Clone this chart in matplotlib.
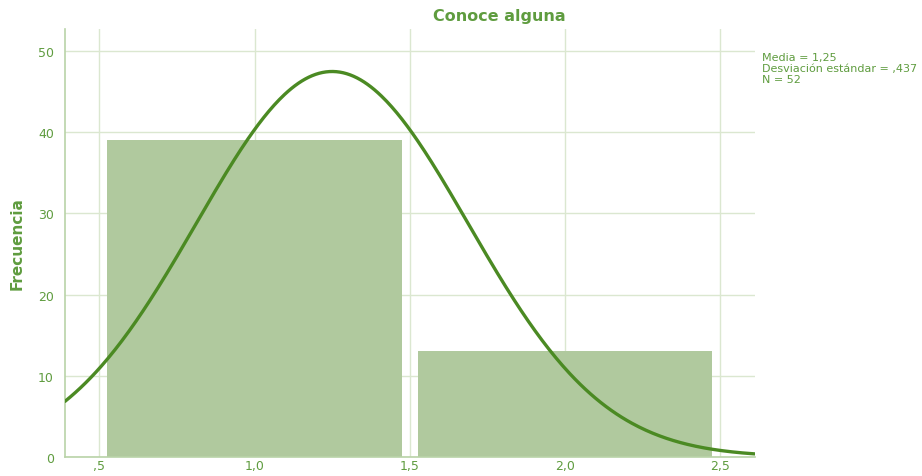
import numpy as np
import matplotlib
matplotlib.use("Agg")
import matplotlib.pyplot as plt

# Data
bin_centers = [1.0, 2.0]
counts = [39, 13]
mean_val = 1.25
std_val = 0.437
n_val = 52
bin_width = 1.0
x_ticks = [0.5, 1.0, 1.5, 2.0, 2.5]
x_tick_labels = [",5", "1,0", "1,5", "2,0", "2,5"]
y_ticks = [0, 10, 20, 30, 40, 50]
title = "Conoce alguna"
ylabel = "Frecuencia"
stats_text = "Media = 1,25\nDesviación estándar = ,437\nN = 52"

bar_color = "#b0c99e"
line_color = "#4b8a23"
text_color = "#5f9c3f"
grid_color = "#dbe7d0"
spine_color = "#b9d3a8"

fig = plt.figure(figsize=(9.22, 4.77), dpi=100)
ax = fig.add_axes([0.0705, 0.040, 0.748, 0.897])

ax.set_xlim(0.39, 2.61)
ax.set_ylim(0, 52.7)
ax.set_axisbelow(True)
ax.grid(True, color=grid_color, linewidth=1.0)

ax.bar(bin_centers, counts, width=0.948, color=bar_color, edgecolor="none", zorder=2)

xs = np.linspace(0.39, 2.61, 400)
ys = n_val * bin_width / (std_val * np.sqrt(2 * np.pi)) * np.exp(-0.5 * ((xs - mean_val) / std_val) ** 2)
ax.plot(xs, ys, color=line_color, linewidth=2.4, zorder=3, solid_capstyle="round")

ax.set_xticks(x_ticks)
ax.set_xticklabels(x_tick_labels)
ax.set_yticks(y_ticks)
ax.tick_params(axis="both", length=0, colors=text_color, labelsize=9)
ax.tick_params(axis="x", pad=1.5)
ax.tick_params(axis="y", pad=8)

for s in ["top", "right"]:
    ax.spines[s].set_visible(False)
for s in ["left", "bottom"]:
    ax.spines[s].set_color(spine_color)
    ax.spines[s].set_linewidth(1.2)

ax.set_ylabel(ylabel, color=text_color, fontsize=11, fontweight="bold")
ax.yaxis.set_label_coords((25 - 65) / 690, 0.5)

fig.text(499 / 922, 1 - 17 / 477, title, ha="center", va="center",
         color=text_color, fontsize=11.5, fontweight="bold")

fig.text(762 / 922, 1 - 53 / 477, stats_text, ha="left", va="top",
         color=text_color, fontsize=8, linespacing=1.1)

fig.savefig("out.png", dpi=100)
